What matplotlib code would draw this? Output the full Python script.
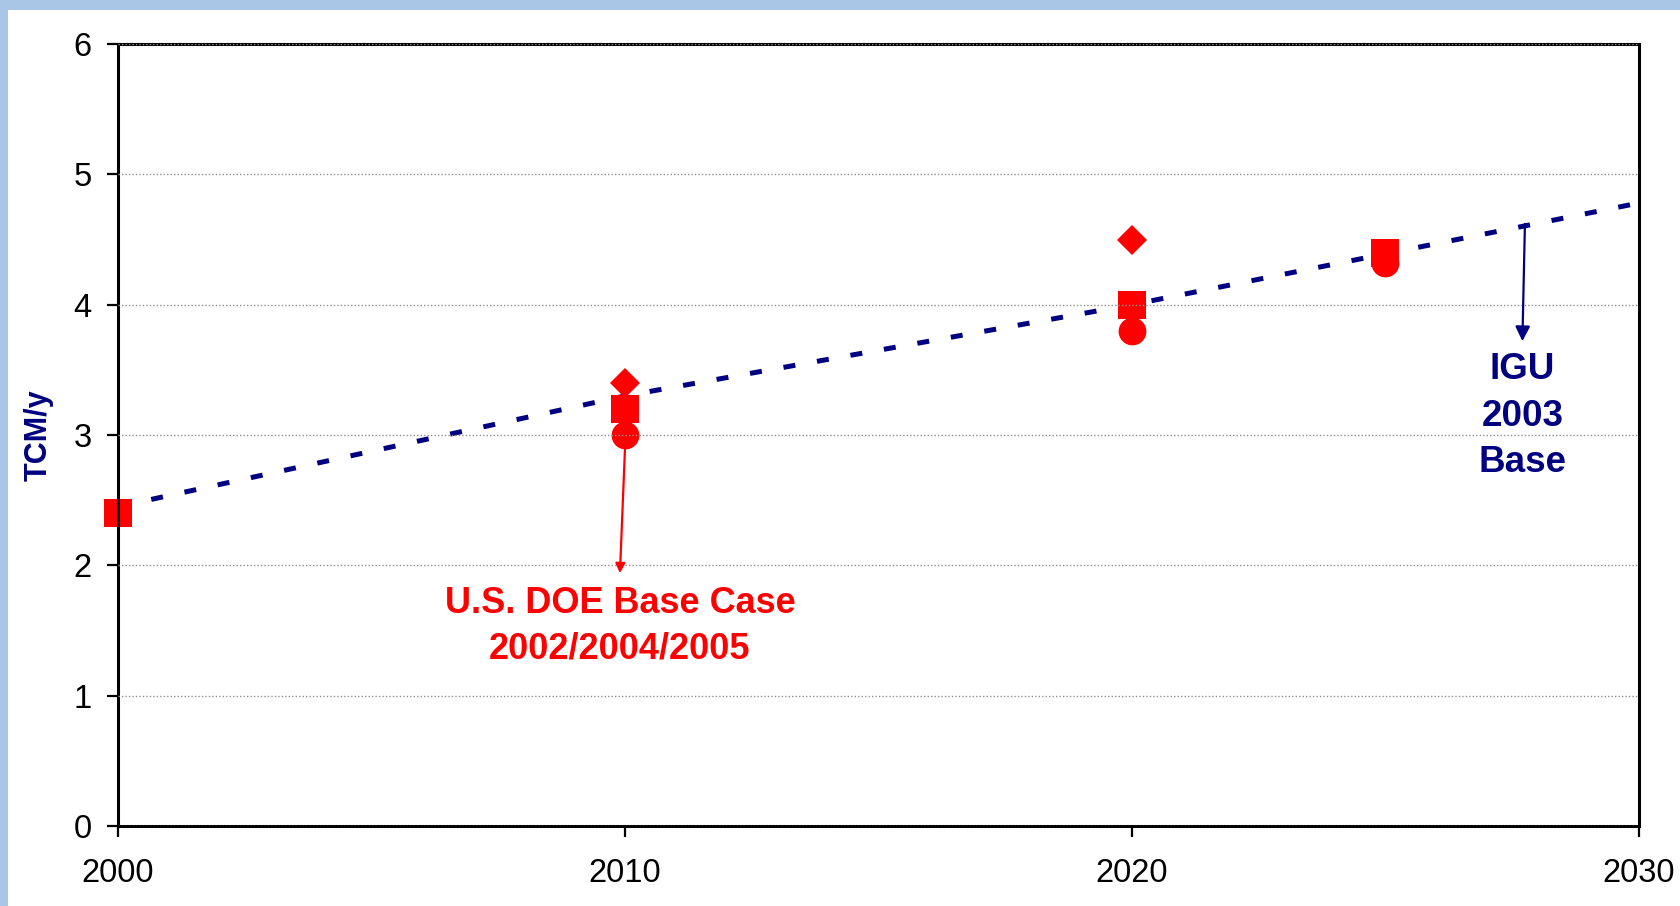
import matplotlib
matplotlib.use("Agg")
from matplotlib import pyplot as plt
from matplotlib.patches import Rectangle

# IGU 2003 base projection (dotted line)
igu_years = [2000, 2010, 2020, 2030]
igu_values = [2.45, 3.3, 4.0, 4.78]

# U.S. DOE base cases 2002/2004/2005
doe_square_years = [2000, 2010, 2020, 2025]
doe_square_values = [2.4, 3.2, 4.0, 4.4]
doe_diamond_years = [2010, 2020]
doe_diamond_values = [3.4, 4.5]
doe_circle_years = [2010, 2020, 2025]
doe_circle_values = [3.0, 3.8, 4.32]

x_ticks = [2000, 2010, 2020, 2030]
y_ticks = [0, 1, 2, 3, 4, 5, 6]

navy = "#000080"
red = "#ff0000"

plt.rcParams["font.family"] = ["Liberation Sans", "DejaVu Sans"]

fig = plt.figure(figsize=(16.81, 9.06), dpi=100)
fig.patch.set_facecolor("white")

# light blue frame at top and left
fig.add_artist(Rectangle((0, 1 - 10 / 906), 1, 10 / 906, transform=fig.transFigure,
                         facecolor="#a9c6e6", edgecolor="none"))
fig.add_artist(Rectangle((0, 0), 8 / 1681, 1, transform=fig.transFigure,
                         facecolor="#a9c6e6", edgecolor="none"))

ax = fig.add_axes([118 / 1681, 1 - 826 / 906, (1639 - 118) / 1681, (826 - 44) / 906])

ax.plot(igu_years, igu_values, color=navy, linewidth=3.6,
        linestyle=(0, (2.4, 4.4)), dash_capstyle="butt", zorder=1.5)

ax.plot(doe_square_years, doe_square_values, linestyle="none", marker="s",
        markersize=20, color=red, markeredgewidth=0, clip_on=False, zorder=2)
ax.plot(doe_circle_years, doe_circle_values, linestyle="none", marker="o",
        markersize=20, color=red, markeredgewidth=0, clip_on=False, zorder=2)
ax.plot(doe_diamond_years, doe_diamond_values, linestyle="none", marker="D",
        markersize=15.5, color=red, markeredgewidth=0, clip_on=False, zorder=2)

ax.set_xlim(2000, 2030)
ax.set_ylim(0, 6)
ax.set_xticks(x_ticks)
ax.set_yticks(y_ticks)

ax.yaxis.grid(True, linestyle=(0, (1, 1.5)), color="#909090", linewidth=1)
ax.set_axisbelow(False)

for side in ax.spines.values():
    side.set_linewidth(2.2)
    side.set_color("black")

ax.tick_params(axis="both", direction="out", length=8, width=1.6,
               labelsize=23.5, colors="black")
ax.tick_params(axis="x", pad=15)
ax.tick_params(axis="y", pad=11)

ax.set_ylabel("TCM/y", color=navy, fontsize=22, fontweight="bold")
ax.yaxis.set_label_coords(-0.042, 0.5)

# annotations
ax.annotate("", xy=(2009.9, 1.94), xytext=(2010, 2.9),
            arrowprops=dict(arrowstyle="-|>", color=red, lw=1.6,
                            mutation_scale=14, shrinkA=0, shrinkB=0))
ax.text(2009.9, 1.71, "U.S. DOE Base Case", color=red, fontsize=26,
        fontweight="bold", ha="center", va="center")
ax.text(2009.9, 1.36, "2002/2004/2005", color=red, fontsize=26,
        fontweight="bold", ha="center", va="center")

ax.annotate("", xy=(2027.7, 3.72), xytext=(2027.75, 4.62),
            arrowprops=dict(arrowstyle="-|>", color=navy, lw=1.6,
                            mutation_scale=22, shrinkA=0, shrinkB=0))
for label, yv in zip(["IGU", "2003", "Base"], [3.5, 3.14, 2.79]):
    ax.text(2027.7, yv, label, color=navy, fontsize=26.5, fontweight="bold",
            ha="center", va="center")

fig.savefig("out.png", dpi=100)
